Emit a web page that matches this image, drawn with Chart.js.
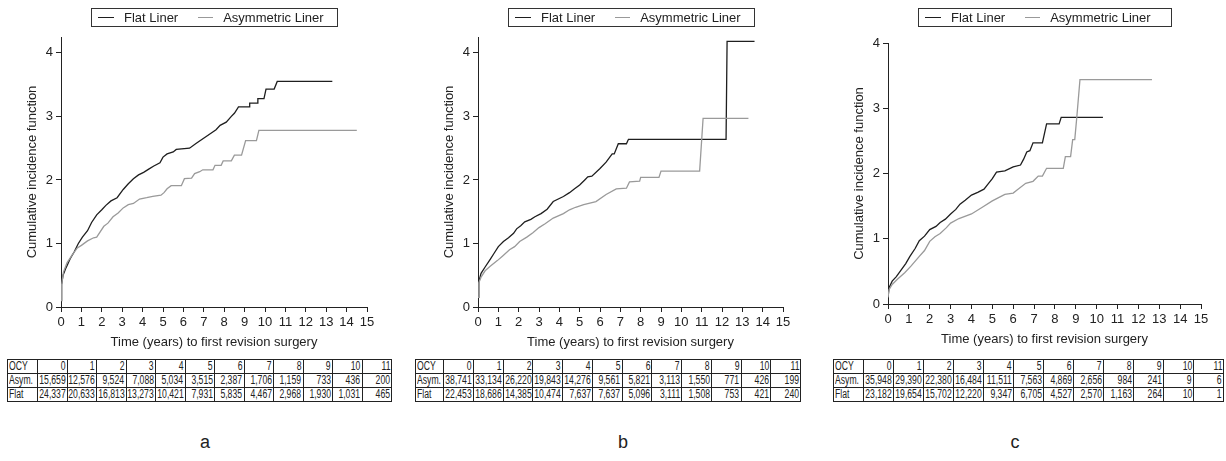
<!DOCTYPE html>
<html>
<head>
<meta charset="utf-8">
<script src="https://cdn.jsdelivr.net/npm/chart.js@4.4.0/dist/chart.umd.min.js"></script>
<style>
  body { margin: 0; background: #fff; width: 1226px; height: 461px; position: relative; overflow: hidden;
         font-family: "Liberation Sans", Arial, sans-serif; color: #222; }
  canvas { position: absolute; top: 0; }
  .legend { position: absolute; top: 8px; height: 19px; border: 1px solid #333; font-size: 13px;
            display: flex; align-items: center; box-sizing: border-box; padding-left: 6px; white-space: nowrap; }
  .legend i { display: inline-block; width: 16px; height: 0; border-top: 1.3px solid #1e1e1e; }
  .legend i.grey { border-top-color: #999; width: 15px; }
  .legend span { margin-left: 10px; }
  .legend span.first { margin-right: 20px; }
  .risk { position: absolute; border-collapse: collapse; table-layout: fixed; font-size: 12px; }
  .risk td { border: 1px solid #222; height: 13px; padding: 0 1px; white-space: nowrap; line-height: 13px; }
  .risk td div { display: flex; justify-content: flex-end; height: 13px; }
  .risk td:first-child div { justify-content: flex-start; }
  .risk td span { display: inline-block; transform: scaleX(0.72); transform-origin: right center; }
  .risk td:first-child span { transform-origin: left center; }
  .tag { position: absolute; top: 432px; font-size: 18px; width: 40px; margin-left: -20px; text-align: center; }
</style>
</head>
<body>
<script>
// cumulative incidence (%): [years, value]
const flatA = [[0,0.1],[0.03,0.35],[0.1,0.5],[0.25,0.62],[0.45,0.76],[0.65,0.87],[0.85,1.0],[1.05,1.1],[1.3,1.2],[1.5,1.33],[1.75,1.45],[2.0,1.53],[2.2,1.6],[2.45,1.67],[2.75,1.72],[3.05,1.85],[3.3,1.94],[3.55,2.02],[3.8,2.08],[4.05,2.12],[4.3,2.17],[4.55,2.22],[4.85,2.27],[5.0,2.36],[5.2,2.41],[5.5,2.44],[5.65,2.48],[6.3,2.5],[6.65,2.58],[7.1,2.68],[7.6,2.79],[7.8,2.86],[8.1,2.91],[8.35,3.0],[8.5,3.05],[8.7,3.15],[9.25,3.15],[9.25,3.21],[9.65,3.21],[9.65,3.28],[9.95,3.28],[10.05,3.43],[10.45,3.43],[10.6,3.55],[13.3,3.55]]
const asymA = [[0,0.1],[0.03,0.35],[0.12,0.55],[0.3,0.7],[0.55,0.82],[0.8,0.93],[1.0,0.97],[1.3,1.04],[1.6,1.09],[1.75,1.1],[2.1,1.27],[2.3,1.32],[2.55,1.42],[2.8,1.48],[3.05,1.56],[3.3,1.61],[3.55,1.63],[3.85,1.7],[4.2,1.72],[4.5,1.74],[4.9,1.76],[5.05,1.8],[5.2,1.86],[5.4,1.91],[5.9,1.91],[6.05,2.02],[6.4,2.03],[6.55,2.1],[6.8,2.13],[6.95,2.16],[7.45,2.16],[7.55,2.23],[7.85,2.23],[7.95,2.3],[8.35,2.3],[8.5,2.39],[8.85,2.39],[9.05,2.62],[9.58,2.62],[9.7,2.78],[14.5,2.78]]

const flatB = [[0,0.15],[0.04,0.4],[0.15,0.53],[0.35,0.63],[0.6,0.75],[0.8,0.85],[1.0,0.95],[1.25,1.03],[1.5,1.09],[1.75,1.16],[1.9,1.23],[2.1,1.28],[2.3,1.34],[2.6,1.38],[2.8,1.42],[3.1,1.47],[3.4,1.54],[3.7,1.66],[4.2,1.74],[4.5,1.8],[4.75,1.86],[5.0,1.92],[5.25,2.0],[5.4,2.05],[5.6,2.06],[6.0,2.18],[6.3,2.28],[6.6,2.41],[6.7,2.41],[6.9,2.57],[7.3,2.57],[7.4,2.64],[12.2,2.64],[12.25,4.18],[13.6,4.18]]
const asymB = [[0,0.15],[0.04,0.38],[0.15,0.47],[0.35,0.57],[0.6,0.64],[0.95,0.73],[1.2,0.8],[1.55,0.9],[1.8,0.95],[2.05,1.03],[2.4,1.1],[2.7,1.17],[3.0,1.25],[3.3,1.31],[3.7,1.4],[4.2,1.47],[4.5,1.53],[4.8,1.57],[5.2,1.61],[5.8,1.66],[6.3,1.77],[6.8,1.86],[7.3,1.87],[7.45,1.97],[7.95,1.98],[8.0,2.04],[8.9,2.04],[9.0,2.14],[10.9,2.14],[11.07,2.97],[13.3,2.97]]

const flatC = [[0,0.1],[0.05,0.25],[0.2,0.35],[0.4,0.42],[0.65,0.53],[0.85,0.62],[1.05,0.73],[1.3,0.85],[1.5,0.97],[1.75,1.04],[2.0,1.14],[2.3,1.19],[2.5,1.25],[2.75,1.3],[3.0,1.38],[3.25,1.45],[3.45,1.53],[3.7,1.59],[4.0,1.67],[4.3,1.71],[4.6,1.76],[4.8,1.84],[5.0,1.92],[5.2,2.02],[5.6,2.04],[6.0,2.1],[6.35,2.13],[6.5,2.22],[6.65,2.33],[6.8,2.35],[6.95,2.47],[7.4,2.47],[7.6,2.76],[8.2,2.76],[8.3,2.86],[10.3,2.86]]
const asymC = [[0,0.1],[0.05,0.22],[0.2,0.3],[0.45,0.38],[0.8,0.48],[1.1,0.58],[1.5,0.73],[1.75,0.82],[2.0,0.96],[2.25,1.03],[2.5,1.08],[2.8,1.17],[3.0,1.24],[3.4,1.31],[4.0,1.38],[4.5,1.48],[5.0,1.58],[5.3,1.63],[5.6,1.68],[6.0,1.7],[6.2,1.75],[6.6,1.85],[6.95,1.88],[7.2,1.96],[7.4,1.96],[7.6,2.08],[8.4,2.08],[8.5,2.26],[8.75,2.26],[8.85,2.52],[8.95,2.52],[9.05,2.87],[9.2,3.44],[12.65,3.44]]

// numbers at risk per observed component year (OCY)
const ocyYears = [0, 1, 2, 3, 4, 5, 6, 7, 8, 9, 10, 11]
const asymRiskA = [15659, 12576, 9524, 7088, 5034, 3515, 2387, 1706, 1159, 733, 436, 200]
const flatRiskA = [24337, 20633, 16813, 13273, 10421, 7931, 5835, 4467, 2968, 1930, 1031, 465]
const asymRiskB = [38741, 33134, 26220, 19843, 14276, 9561, 5821, 3113, 1550, 771, 426, 199]
const flatRiskB = [22453, 18686, 14385, 10474, 7637, 7637, 5096, 3111, 1508, 753, 421, 240]
const asymRiskC = [35948, 29390, 22380, 16484, 11511, 7563, 4869, 2656, 984, 241, 9, 6]
const flatRiskC = [23182, 19654, 15702, 12220, 9347, 6705, 4527, 2570, 1163, 264, 10, 1]

const xTicks = [0, 15]
const seriesNames = ['Flat Liner', 'Asymmetric Liner']
const panelTags = ['a', 'b', 'c']

const inkColor = '#222'

const toPoints = (pairs) => pairs.map(([x, y]) => ({x, y}))

const axisStyle = (titleText, fixSize) => ({
    type: 'linear',
    ticks: { stepSize: 1, includeBounds: false, maxRotation: 0, minRotation: 0, autoSkip: false,
             color: inkColor, padding: 3, font: { size: 13, family: 'Liberation Sans, Arial' } },
    grid: { display: true, drawOnChartArea: false, drawTicks: true, tickLength: 5, color: inkColor, lineWidth: 1 },
    border: { display: true, color: inkColor, width: 1 },
    title: { display: true, text: titleText, color: inkColor, padding: { top: 4, bottom: 4 }, font: { size: 13, family: 'Liberation Sans, Arial' } },
    afterFit: fixSize
})

const construirPanel = (flat, asym, yMax, box) => {
    const canvas = document.createElement('canvas')
    const left = box.axisLeft - 40
    canvas.width = box.axisRight - left + 20
    canvas.height = box.axisBottom + 47
    canvas.style.left = left + 'px'
    document.body.appendChild(canvas)

    const xScale = axisStyle('Time (years) to first revision surgery', (s) => { s.height = 47 })
    xScale.min = xTicks[0]
    xScale.max = xTicks[1]
    const yScale = axisStyle('Cumulative incidence function', (s) => { s.width = 40 })
    yScale.min = 0
    yScale.max = yMax

    new Chart(canvas, {
        type: 'line',
        data: {
            datasets: [
                { label: seriesNames[1], data: toPoints(asym), borderColor: '#9a9a9a', borderWidth: 1.3 },
                { label: seriesNames[0], data: toPoints(flat), borderColor: '#1e1e1e', borderWidth: 1.3 }
            ]
        },
        options: {
            responsive: false,
            animation: false,
            devicePixelRatio: 1,
            layout: { padding: { top: box.axisTop, right: 20, left: 0, bottom: 0 } },
            elements: { point: { radius: 0 }, line: { tension: 0 } },
            plugins: { legend: { display: false }, tooltip: { enabled: false } },
            scales: { x: xScale, y: yScale }
        }
    })
}

const construirLeyenda = (left, width) => {
    const div = document.createElement('div')
    div.className = 'legend'
    div.style.left = left + 'px'
    div.style.width = width + 'px'
    div.innerHTML = `<i></i><span class="first">${seriesNames[0]}</span><i class="grey"></i><span>${seriesNames[1]}</span>`
    document.body.appendChild(div)
}

const construirTabla = (left, top, firstW, colW, asymRisk, flatRisk) => {
    const table = document.createElement('table')
    table.className = 'risk'
    table.style.left = left + 'px'
    table.style.top = top + 'px'
    table.style.width = (firstW + colW * ocyYears.length) + 'px'
    let cols = `<col style="width:${firstW}px">`
    ocyYears.forEach(() => { cols += `<col style="width:${colW}px">` })
    const fila = (name, vals) => `<tr><td><div><span>${name}</span></div></td>` +
        vals.map(v => `<td><div><span>${v.toLocaleString('en-US')}</span></div></td>`).join('') + '</tr>'
    table.innerHTML = cols + fila('OCY', ocyYears) + fila('Asym.', asymRisk) + fila('Flat', flatRisk)
    document.body.appendChild(table)
}

const construirEtiqueta = (center, text) => {
    const div = document.createElement('div')
    div.className = 'tag'
    div.style.left = center + 'px'
    div.textContent = text
    document.body.appendChild(div)
}

construirPanel(flatA, asymA, 4.25, { axisLeft: 61, axisRight: 367, axisTop: 37, axisBottom: 307 })
construirPanel(flatB, asymB, 4.25, { axisLeft: 478, axisRight: 783, axisTop: 37, axisBottom: 307 })
construirPanel(flatC, asymC, 4, { axisLeft: 888, axisRight: 1201, axisTop: 43, axisBottom: 304 })

construirLeyenda(91, 247)
construirLeyenda(508, 247)
construirLeyenda(918, 254)

construirTabla(7, 359, 30, 29.5, asymRiskA, flatRiskA)
construirTabla(415, 359, 28, 29.75, asymRiskB, flatRiskB)
construirTabla(833, 359, 30, 30, asymRiskC, flatRiskC)

construirEtiqueta(205, panelTags[0])
construirEtiqueta(623, panelTags[1])
construirEtiqueta(1015, panelTags[2])
</script>
</body>
</html>
